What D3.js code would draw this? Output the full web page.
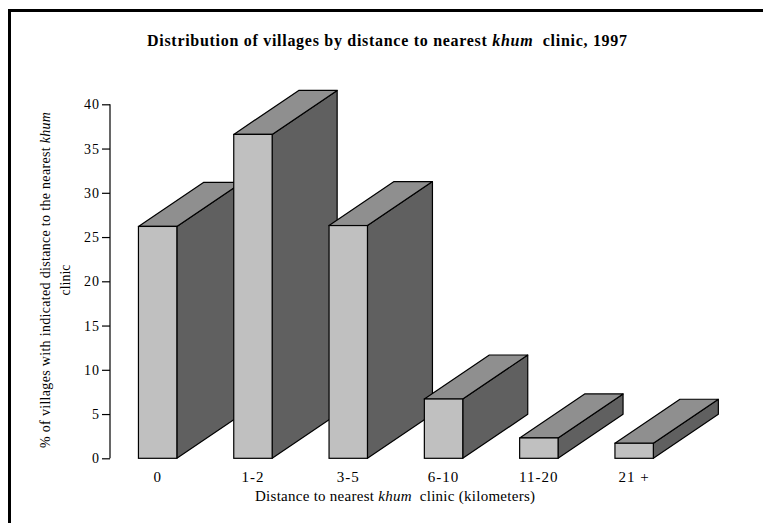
<!DOCTYPE html>
<html>
<head>
<meta charset="utf-8">
<script src="https://cdn.jsdelivr.net/npm/d3@7"></script>
<style>
  body { margin: 0; background: #fff; }
  text { font-family: "Liberation Serif", "Times New Roman", serif; fill: #000; }
</style>
</head>
<body>
<script>
// chart data
var categories = ["0", "1-2", "3-5", "6-10", "11-20", "21 +"];
var percents = [26.2, 36.6, 26.3, 6.7, 2.3, 1.7];
var yTicks = [0, 5, 10, 15, 20, 25, 30, 35, 40];

var W = 763, H = 523;
var svg = d3.select("body").append("svg").attr("width", W).attr("height", H);

// frame
svg.append("rect")
  .attr("x", 9.5).attr("y", 10.5).attr("width", 800).attr("height", 600)
  .attr("fill", "white").attr("stroke", "black").attr("stroke-width", 3);

var axisX = 110;
var y = d3.scaleLinear().domain([0, 40]).range([458.3, 104.3]);
var x = d3.scalePoint().domain(categories).range([axisX, axisX + 6 * 95.3]).padding(0.5);
var barW = 38.4, dx = 65, dy = -44;

// y axis
var yAxis = d3.axisLeft(y).tickValues(yTicks).tickSize(8).tickPadding(2);
var gy = svg.append("g").attr("transform", "translate(" + axisX + ",0)").call(yAxis);
gy.select(".domain").attr("stroke", "black").attr("stroke-width", 1.2)
  .attr("d", "M0," + y(40) + "V" + y(0));
gy.selectAll(".tick line").attr("stroke", "black").attr("stroke-width", 1.2);
gy.selectAll(".tick text").attr("font-size", "14px").style("letter-spacing", "1px")
  .style("font-family", "Liberation Serif, serif").attr("fill", "black");

// 3d bars, left to right so later ones overlap
var bars = svg.append("g");
categories.forEach(function(c, i){
  var x0 = x(c) - barW / 2, x1 = x(c) + barW / 2;
  var yt = y(percents[i]), yb = y(0);
  var g = bars.append("g");
  // side
  g.append("path")
    .attr("d", "M" + x1 + "," + yb + "L" + (x1 + dx) + "," + (yb + dy) + "L" + (x1 + dx) + "," + (yt + dy) + "L" + x1 + "," + yt + "Z")
    .attr("fill", "#606060").attr("stroke", "black").attr("stroke-width", 1.2).attr("stroke-linejoin", "round");
  // top
  g.append("path")
    .attr("d", "M" + x0 + "," + yt + "L" + (x0 + dx) + "," + (yt + dy) + "L" + (x1 + dx) + "," + (yt + dy) + "L" + x1 + "," + yt + "Z")
    .attr("fill", "#8f8f8f").attr("stroke", "black").attr("stroke-width", 1.2).attr("stroke-linejoin", "round");
  // front
  g.append("rect")
    .attr("x", x0).attr("y", yt).attr("width", barW).attr("height", yb - yt)
    .attr("fill", "#c0c0c0").attr("stroke", "black").attr("stroke-width", 1.2);
});

// x labels
svg.append("g").selectAll("text").data(categories).join("text")
  .attr("x", function(d){ return x(d); }).attr("y", 482)
  .attr("text-anchor", "middle").attr("font-size", "15px").style("letter-spacing", "1px")
  .text(function(d){ return d; });

// title
var title = svg.append("text")
  .attr("x", 387).attr("y", 46).attr("text-anchor", "middle")
  .attr("font-size", "16px").attr("font-weight", "bold")
  .attr("textLength", 480).attr("lengthAdjust", "spacing");
title.append("tspan").text("Distribution of villages by distance to nearest ");
title.append("tspan").attr("font-style", "italic").text("khum");
title.append("tspan").text("\u00a0 clinic, 1997");

// x title
var xt = svg.append("text")
  .attr("x", 395).attr("y", 501).attr("text-anchor", "middle").attr("font-size", "15px")
  .attr("textLength", 280).attr("lengthAdjust", "spacing");
xt.append("tspan").text("Distance to nearest ");
xt.append("tspan").attr("font-style", "italic").text("khum");
xt.append("tspan").text("\u00a0 clinic (kilometers)");

// y title, two lines
var yl = svg.append("text")
  .attr("transform", "translate(50,280) rotate(-90)")
  .attr("text-anchor", "middle").attr("font-size", "14px")
  .attr("textLength", 336).attr("lengthAdjust", "spacing");
yl.append("tspan").text("% of villages with indicated distance to the nearest ");
yl.append("tspan").attr("font-style", "italic").text("khum");
svg.append("text")
  .attr("transform", "translate(70,280) rotate(-90)")
  .attr("text-anchor", "middle").attr("font-size", "14px")
  .text("clinic");
</script>
</body>
</html>
